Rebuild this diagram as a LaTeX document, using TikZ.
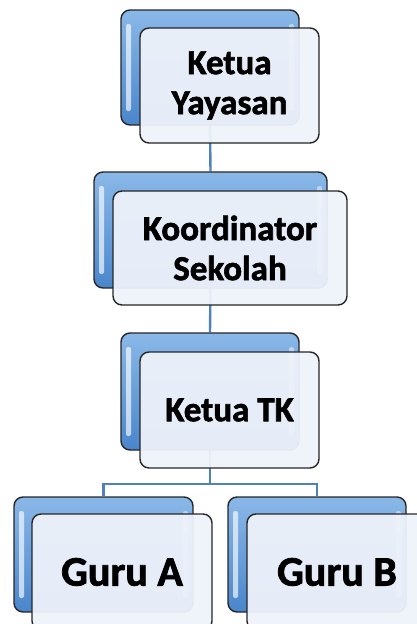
\documentclass[tikz,border=0pt]{standalone}
\usepackage{xcolor}
\usepackage{fontspec}
\setmainfont{Carlito}[BoldFeatures={FakeBold=1.8}]
\usepackage{tikz}
\usetikzlibrary{positioning, calc}
\pgfdeclarelayer{background}
\pgfdeclarelayer{foreground}
\pgfsetlayers{background,main,foreground}

\definecolor{boxTop}{RGB}{138,184,232}
\definecolor{boxBot}{RGB}{74,134,204}
\definecolor{boxFront}{RGB}{238,242,250}
\definecolor{linkBlue}{RGB}{79,129,189}

\tikzset{
  backbox/.style={rounded corners=9pt, draw=black!85, line width=1.4pt,
    top color=boxTop, bottom color=boxBot, inner sep=0pt,
    path picture={
      \fill[white, opacity=0.65, rounded corners=2pt]
        ([xshift=5pt,yshift=-14pt]path picture bounding box.north west) rectangle
        ([xshift=10pt,yshift=14pt]path picture bounding box.south west);
      \fill[white, opacity=0.45, rounded corners=2pt]
        ([xshift=-5pt,yshift=-14pt]path picture bounding box.north east) rectangle
        ([xshift=-10pt,yshift=14pt]path picture bounding box.south east);
    }},
  frontbox/.style={rounded corners=9pt, draw=black!85, line width=1.4pt,
    fill=boxFront, fill opacity=0.95, text opacity=1, inner sep=0pt,
    align=center, font=\fontsize{35}{40}\selectfont\bfseries},
  bigtext/.style={font=\fontsize{42}{48}\selectfont\bfseries},
  link/.style={draw=linkBlue, line width=2.4pt},
}

\begin{document}
\begin{tikzpicture}[x=1pt, y=-1pt]
  \useasboundingbox (0,0) rectangle (417,624);

  % back boxes
  \node[backbox, minimum width=178pt, minimum height=115pt] (yayasanB) at (210,67.5) {};
  \node[backbox, minimum width=233pt, minimum height=116pt] (koordB) at (210.5,230) {};
  \node[backbox, minimum width=178pt, minimum height=117pt] (tkB) at (210,391.5) {};
  \node[backbox, minimum width=179pt, minimum height=115pt] (guruaB) at (103.5,554.5) {};
  \node[backbox, minimum width=178pt, minimum height=115pt] (gurubB) at (317,554.5) {};

  % front boxes
  \node[frontbox, minimum width=179pt, minimum height=115pt] (yayasan) at (229.5,85.5) {Ketua\\Yayasan};
  \node[frontbox, minimum width=234pt, minimum height=114pt] (koord) at (230,248) {Koordinator\\Sekolah};
  \node[frontbox, minimum width=179pt, minimum height=116pt] (tk) at (229.5,410) {Ketua TK};
  \node[frontbox, bigtext, minimum width=180pt, minimum height=116pt] (gurua) at (122,572) {Guru A};
  \node[frontbox, bigtext, minimum width=180pt, minimum height=116pt] (gurub) at (337,572) {Guru B};

  % connectors
  \begin{pgfonlayer}{background}
    \draw[link] (yayasanB.south) -- (koordB.north);
    \draw[link] (koordB.south) -- (tkB.north);
    \draw[link] (tkB.south) -- ++(0,33) -| (guruaB.north);
    \draw[link] (tkB.south) -- ++(0,33) -| (gurubB.north);
  \end{pgfonlayer}
\end{tikzpicture}
\end{document}
